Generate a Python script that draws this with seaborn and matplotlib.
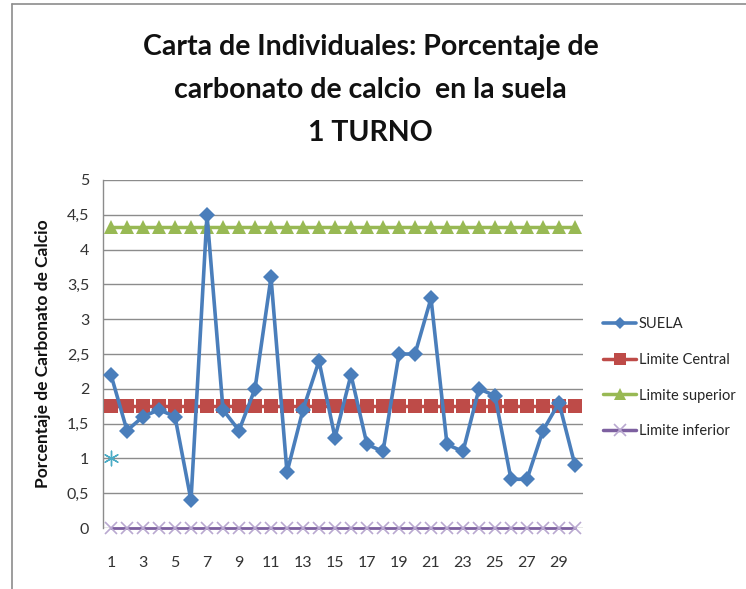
import numpy as np
import pandas as pd
import matplotlib
matplotlib.use("Agg")
import matplotlib.pyplot as plt
import seaborn as sns
from matplotlib.lines import Line2D

# ---- data ----
muestras = list(range(1, 31))
suela = [2.2, 1.4, 1.6, 1.7, 1.6, 0.4, 4.5, 1.7, 1.4, 2.0,
         3.6, 0.8, 1.7, 2.4, 1.3, 2.2, 1.2, 1.1, 2.5, 2.5,
         3.3, 1.2, 1.1, 2.0, 1.9, 0.7, 0.7, 1.4, 1.8, 0.9]
limite_central = [1.75] * 30
limite_superior = [4.32] * 30
limite_inferior = [0.0] * 30
extra_x = [1]
extra_y = [1.0]
yticks = [0, 0.5, 1, 1.5, 2, 2.5, 3, 3.5, 4, 4.5, 5]
ytick_labels = ["0", "0,5", "1", "1,5", "2", "2,5", "3", "3,5", "4", "4,5", "5"]
xticks = list(range(1, 30, 2))
title_lines = ["Carta de Individuales: Porcentaje de",
               "carbonato de calcio  en la suela",
               "1 TURNO"]

sns.set_theme(style="white")
plt.rcParams['font.family'] = ['Lato', 'DejaVu Sans']

fig = plt.figure(figsize=(7.46, 5.89), dpi=100)
ax = fig.add_axes([103/746, 61/589, 480/746, 348/589])

df = pd.DataFrame({"x": muestras, "suela": suela, "central": limite_central,
                   "superior": limite_superior, "inferior": limite_inferior})

c_blue = "#4A7EBB"
c_red = "#BE4B48"
c_green = "#98B954"
c_purple = "#7D60A0"
c_cyan = "#4BACC6"

sns.lineplot(data=df, x="x", y="inferior", ax=ax, color=c_purple, lw=2,
             marker="x", markersize=9, markeredgewidth=1.2,
             markeredgecolor="#B9A8D0", clip_on=False, zorder=3)
sns.lineplot(data=df, x="x", y="superior", ax=ax, color=c_green, lw=2.5,
             marker="^", markersize=10, markeredgewidth=0, zorder=4)
sns.lineplot(data=df, x="x", y="central", ax=ax, color=c_red, lw=2.5,
             marker="s", markersize=9.5, markeredgewidth=0, zorder=5)
sns.lineplot(data=df, x="x", y="suela", ax=ax, color=c_blue, lw=2.6,
             marker="D", markersize=8, markeredgewidth=0, zorder=6)
sns.scatterplot(x=extra_x, y=extra_y, ax=ax, color=c_cyan, marker=(6, 2, 0),
                s=110, linewidth=1, zorder=7)

ax.set_xlim(0.5, 30.5)
ax.set_ylim(0, 5)
ax.set_xticks(xticks)
ax.set_xticklabels([str(t) for t in xticks], fontsize=11.5, color="#333333")
ax.set_yticks(yticks)
ax.set_yticklabels(ytick_labels, fontsize=11.5, color="#333333")
ax.tick_params(axis="x", length=0, pad=20)
ax.tick_params(axis="y", length=0, pad=10)
ax.yaxis.grid(True, color="#8C8C8C", lw=1)
ax.xaxis.grid(False)
for s in ["top", "right", "bottom"]:
    ax.spines[s].set_visible(False)
ax.spines["left"].set_color("#8C8C8C")
ax.spines["left"].set_linewidth(1)
ax.set_xlabel("")
ax.set_ylabel("Porcentaje de Carbonato de Calcio", fontsize=12.5, fontweight="bold",
              color="#111111", labelpad=11)

for line, ypix in zip(title_lines, [47, 90, 133]):
    fig.text(0.497, 1 - ypix/589, line, ha="center", va="center",
             fontsize=20.5, fontweight="bold", color="#111111")

handles = [
    Line2D([], [], color=c_blue, lw=2.6, marker="D", markersize=6, markeredgewidth=0),
    Line2D([], [], color=c_red, lw=2.5, marker="s", markersize=8, markeredgewidth=0),
    Line2D([], [], color=c_green, lw=2.5, marker="^", markersize=8, markeredgewidth=0),
    Line2D([], [], color=c_purple, lw=2.5, marker="x", markersize=8,
           markeredgecolor="#B9A8D0", markeredgewidth=1.2),
]
labels = ["SUELA", "Limite Central", "Limite superior", "Limite inferior"]
fig.legend(handles, labels, loc="upper left", bbox_to_anchor=(597/746, 1 - 311/589),
           frameon=False, fontsize=10.5, handlelength=2.3, labelspacing=1.5,
           handletextpad=0.15, borderaxespad=0)

# outer frame
fig.add_artist(Line2D([12/746, 12/746], [0, 1 - 4/589], transform=fig.transFigure,
                      color="#8C8C8C", lw=1.2))
fig.add_artist(Line2D([12/746, 1], [1 - 4/589, 1 - 4/589], transform=fig.transFigure,
                      color="#8C8C8C", lw=1.2))

fig.savefig("out.png", dpi=100)
